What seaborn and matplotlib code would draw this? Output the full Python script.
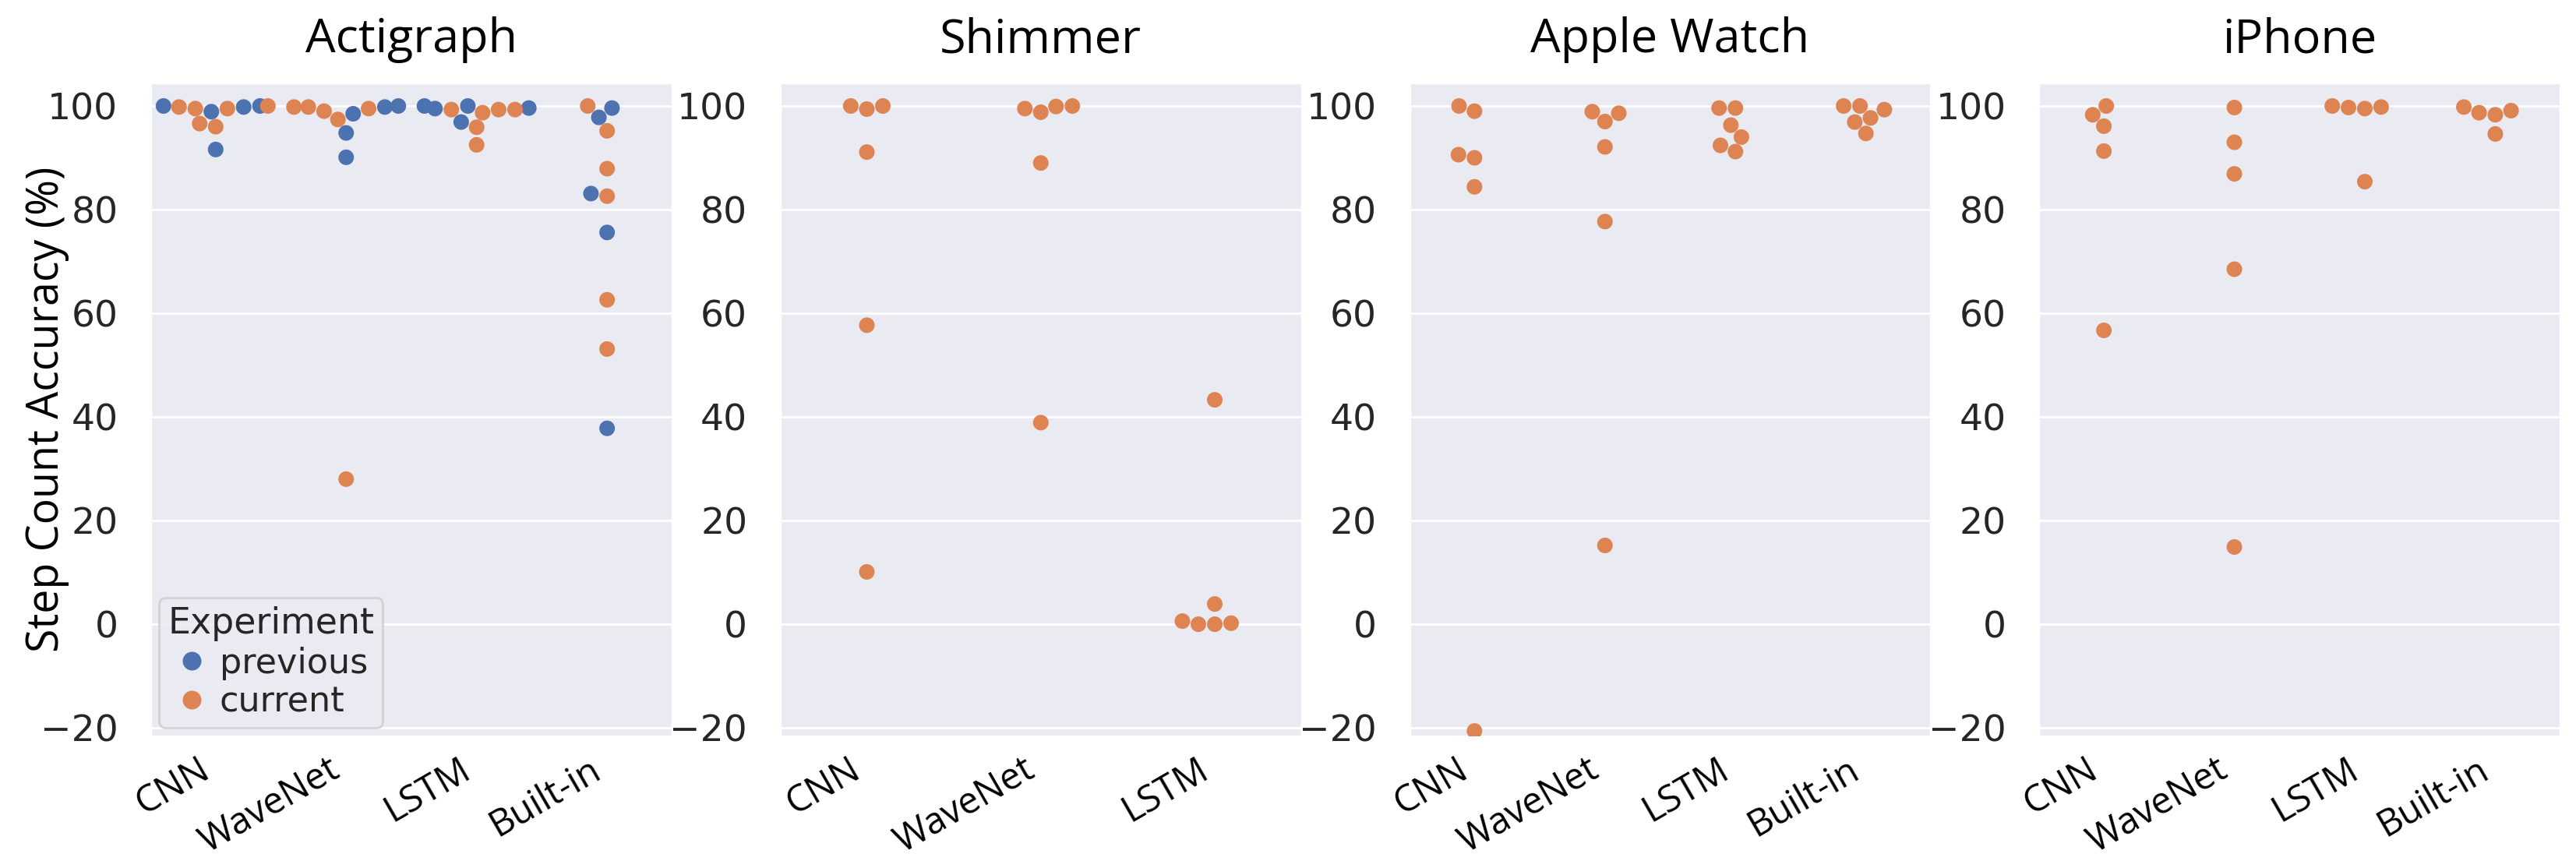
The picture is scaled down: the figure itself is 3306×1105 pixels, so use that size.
import pandas as pd
import matplotlib.pyplot as plt
import seaborn as sns

# Datos (precisión de conteo de pasos, %)
devices = ['Actigraph', 'Shimmer', 'Apple Watch', 'iPhone']
models_full = ['CNN', 'WaveNet', 'LSTM', 'Built-in']
models_shimmer = ['CNN', 'WaveNet', 'LSTM']
experiments = ['previous', 'current']

# Actigraph
acti_cnn_prev = [100.0, 98.9, 99.8, 100.0, 91.6]
acti_cnn_curr = [99.8, 99.5, 99.5, 100.0, 96.6, 96.0]
acti_wave_prev = [98.5, 99.8, 100.0, 94.8, 90.1]
acti_wave_curr = [99.8, 99.8, 99.0, 97.4, 99.5, 28.0]
acti_lstm_prev = [100.0, 99.5, 96.9, 99.6, 100.0]
acti_lstm_curr = [99.3, 98.7, 95.9, 92.5, 99.3, 99.3]
acti_built_prev = [99.6, 97.8, 83.1, 75.6, 37.8]
acti_built_curr = [100.0, 95.2, 87.9, 82.6, 62.6, 53.1]

# Shimmer (solo experimento actual)
shim_cnn_curr = [100.0, 99.4, 100.0, 91.1, 57.7, 10.1]
shim_wave_curr = [99.5, 98.8, 99.9, 100.0, 89.0, 38.9]
shim_lstm_curr = [43.3, 3.9, 0.6, 0.0, 0.0, 0.2]

# Apple Watch
watch_cnn_curr = [100.0, 99.0, 90.6, 90.0, 84.4, -20.6]
watch_wave_curr = [98.6, 97.0, 98.9, 92.1, 77.7, 15.2]
watch_lstm_curr = [99.6, 99.6, 96.3, 94.0, 92.4, 91.2]
watch_built_curr = [100.0, 99.3, 97.7, 96.9, 94.7, 100.0]

# iPhone
ipho_cnn_curr = [100.0, 98.3, 96.1, 91.3, 56.7]
ipho_wave_curr = [99.7, 93.0, 86.9, 68.5, 14.9]
ipho_lstm_curr = [100.0, 99.8, 99.5, 99.7, 85.4]
ipho_built_curr = [99.8, 98.7, 98.3, 99.1, 94.6]

series = [
    ('Actigraph', 'CNN', 'previous', acti_cnn_prev),
    ('Actigraph', 'CNN', 'current', acti_cnn_curr),
    ('Actigraph', 'WaveNet', 'previous', acti_wave_prev),
    ('Actigraph', 'WaveNet', 'current', acti_wave_curr),
    ('Actigraph', 'LSTM', 'previous', acti_lstm_prev),
    ('Actigraph', 'LSTM', 'current', acti_lstm_curr),
    ('Actigraph', 'Built-in', 'previous', acti_built_prev),
    ('Actigraph', 'Built-in', 'current', acti_built_curr),
    ('Shimmer', 'CNN', 'current', shim_cnn_curr),
    ('Shimmer', 'WaveNet', 'current', shim_wave_curr),
    ('Shimmer', 'LSTM', 'current', shim_lstm_curr),
    ('Apple Watch', 'CNN', 'current', watch_cnn_curr),
    ('Apple Watch', 'WaveNet', 'current', watch_wave_curr),
    ('Apple Watch', 'LSTM', 'current', watch_lstm_curr),
    ('Apple Watch', 'Built-in', 'current', watch_built_curr),
    ('iPhone', 'CNN', 'current', ipho_cnn_curr),
    ('iPhone', 'WaveNet', 'current', ipho_wave_curr),
    ('iPhone', 'LSTM', 'current', ipho_lstm_curr),
    ('iPhone', 'Built-in', 'current', ipho_built_curr),
]
rows = [(d, m, e, v) for d, m, e, vals in series for v in vals]
df = pd.DataFrame(rows, columns=['Device', 'Model', 'Experiment', 'Accuracy'])

# Estilo
sns.set_theme(style='darkgrid')
plt.rcParams['font.family'] = ['DejaVu Sans']
palette = {'previous': '#4C72B0', 'current': '#DD8452'}

fig, axes = plt.subplots(1, 4, figsize=(16.53, 5.525), dpi=200)
fig.subplots_adjust(left=0.0584, right=0.994, bottom=0.145, top=0.904, wspace=0.206)

for i, (ax, dev) in enumerate(zip(axes, devices)):
    sub = df[df['Device'] == dev]
    order = models_shimmer if dev == 'Shimmer' else models_full
    sns.swarmplot(data=sub, x='Model', y='Accuracy', hue='Experiment',
                  order=order, hue_order=experiments, palette=palette,
                  size=7.2, ax=ax, legend=(i == 0))
    ax.set_ylim(-21.6, 104.5)
    ax.set_yticks([-20, 0, 20, 40, 60, 80, 100])
    ax.set_title(dev, fontfamily='Open Sans', fontsize=22, color='black', pad=14)
    ax.set_xlabel('')
    ax.set_ylabel('')
    ax.tick_params(axis='y', labelsize=17, pad=9)
    ax.tick_params(axis='x', pad=1)
    for lab in ax.get_xticklabels():
        lab.set_fontfamily('Open Sans')
        lab.set_fontsize(17)
        lab.set_color('black')
        lab.set_rotation(30)
        lab.set_ha('right')

axes[0].set_ylabel('Step Count Accuracy (%)', fontfamily='Open Sans', fontsize=20, color='black')
axes[0].yaxis.set_label_coords(-0.155, 0.5)
sns.move_legend(axes[0], 'lower left', title='Experiment', fontsize=16,
                title_fontsize=16.5, borderaxespad=0.25, markerscale=1.2,
                handlelength=1.0, handletextpad=0.3, labelspacing=0.15,
                borderpad=0.25)

plt.savefig('out.png', dpi=200)
plt.close()
